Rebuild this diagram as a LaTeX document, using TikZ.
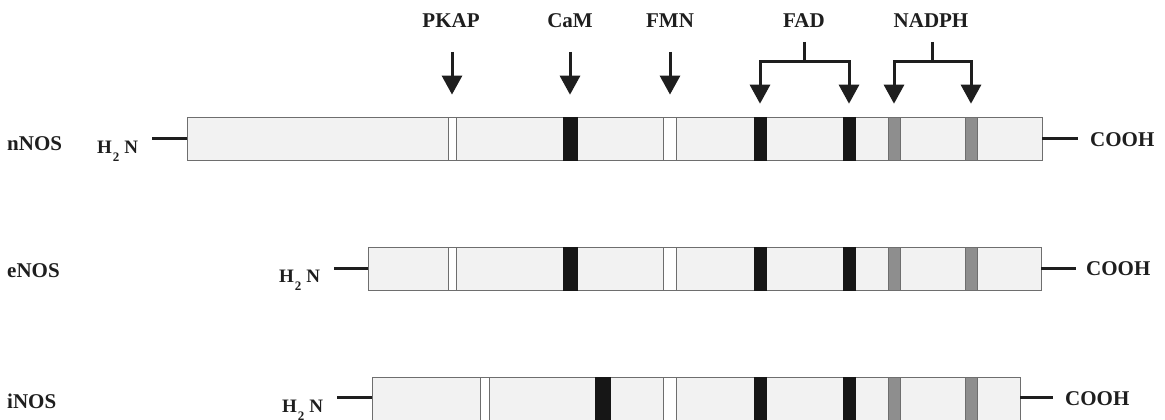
\documentclass[tikz,border=0pt]{standalone}
\usepackage{fontspec}
\setmainfont{Liberation Serif}
\usetikzlibrary{arrows.meta}
\definecolor{ink}{HTML}{1E1E1E}
\definecolor{barline}{HTML}{6E6E6E}
\definecolor{barfill}{HTML}{F2F2F2}
\definecolor{bandblack}{HTML}{161616}
\definecolor{bandgray}{HTML}{8E8E8E}
\newcommand{\htwon}{H\kern1pt\raisebox{-8pt}{\fontsize{13}{13}\selectfont 2}\kern5pt N}
\begin{document}
\begin{tikzpicture}[x=1pt,y=-1pt,
  bar/.style={draw=barline, fill=barfill, line width=0.9pt, minimum height=43pt, inner sep=0pt},
  wband/.style={draw=barline, fill=white, line width=0.8pt, minimum height=43pt, inner sep=0pt},
  kband/.style={draw=bandblack, fill=bandblack, line width=0.6pt, minimum height=43pt, inner sep=0pt},
  gband/.style={draw=barline, fill=bandgray, line width=0.6pt, minimum height=43pt, inner sep=0pt},
  lbl/.style={font=\fontsize{21}{21}\selectfont\bfseries, text=ink, inner sep=0pt},
  hlbl/.style={font=\fontsize{19}{19}\selectfont\bfseries, text=ink, inner sep=0pt},
  stub/.style={line width=3pt, draw=ink},
  arr/.style={line width=3pt, draw=ink, -{Triangle[width=20pt,length=19pt]}}]
\useasboundingbox (0,0) rectangle (1165,420);

% ---------- top labels ----------
\node[lbl, anchor=base] (lPKAP) at (451,28) {PKAP};
\node[lbl, anchor=base] (lCaM) at (570,28) {CaM};
\node[lbl, anchor=base] (lFMN) at (670,28) {FMN};
\node[lbl, anchor=base] (lFAD) at (804,28) {FAD};
\node[lbl, anchor=base] (lNADPH) at (931,28) {NADPH};

% ---------- nNOS ----------
\node[bar, minimum width=855pt] (nbar) at (614.5,138.5) {};
\node[wband, minimum width=8pt] (nPKAP) at (452,138.5) {};
\node[kband, minimum width=14pt] (nCaM) at (570,138.5) {};
\node[wband, minimum width=13pt] (nFMN) at (670,138.5) {};
\node[kband, minimum width=12pt] (nFAD1) at (760,138.5) {};
\node[kband, minimum width=12pt] (nFAD2) at (849,138.5) {};
\node[gband, minimum width=12pt] (nNAD1) at (894,138.5) {};
\node[gband, minimum width=12pt] (nNAD2) at (971,138.5) {};
\node[lbl, anchor=base west] (nname) at (7,150) {nNOS};
\node[hlbl, anchor=base west] (nH) at (97,153) {\htwon};
\node[lbl, anchor=base west] (nC) at (1090,146) {COOH};
\coordinate (nL) at (152,138.5);
\coordinate (nR) at (1078,138.5);
\draw[stub] (nL) -- (nbar.west);
\draw[stub] (nbar.east) -- (nR);

% ---------- eNOS ----------
\node[bar, minimum width=673pt] (ebar) at (704.5,268.5) {};
\node[wband, minimum width=8pt] (ePKAP) at (452,268.5) {};
\node[kband, minimum width=14pt] (eCaM) at (570,268.5) {};
\node[wband, minimum width=13pt] (eFMN) at (670,268.5) {};
\node[kband, minimum width=12pt] (eFAD1) at (760,268.5) {};
\node[kband, minimum width=12pt] (eFAD2) at (849,268.5) {};
\node[gband, minimum width=12pt] (eNAD1) at (894,268.5) {};
\node[gband, minimum width=12pt] (eNAD2) at (971,268.5) {};
\node[lbl, anchor=base west] (ename) at (7,277) {eNOS};
\node[hlbl, anchor=base west] (eH) at (279,282) {\htwon};
\node[lbl, anchor=base west] (eC) at (1086,275) {COOH};
\coordinate (eL) at (334,268.5);
\coordinate (eR) at (1076,268.5);
\draw[stub] (eL) -- (ebar.west);
\draw[stub] (ebar.east) -- (eR);

% ---------- iNOS ----------
\node[bar, minimum width=648pt] (ibar) at (696,398.5) {};
\node[wband, minimum width=9pt] (iPKAP) at (484.5,398.5) {};
\node[kband, minimum width=15pt] (iCaM) at (602.5,398.5) {};
\node[wband, minimum width=13pt] (iFMN) at (670,398.5) {};
\node[kband, minimum width=12pt] (iFAD1) at (760,398.5) {};
\node[kband, minimum width=12pt] (iFAD2) at (849,398.5) {};
\node[gband, minimum width=12pt] (iNAD1) at (894,398.5) {};
\node[gband, minimum width=12pt] (iNAD2) at (971,398.5) {};
\node[lbl, anchor=base west] (iname) at (7,408) {iNOS};
\node[hlbl, anchor=base west] (iH) at (282,412) {\htwon};
\node[lbl, anchor=base west] (iC) at (1065,405) {COOH};
\coordinate (iL) at (337,397.5);
\coordinate (iR) at (1053,397.5);
\draw[stub] (iL) -- (ibar.west |- iL);
\draw[stub] (ibar.east |- iR) -- (iR);

% ---------- arrows ----------
\coordinate (aPKAP) at (452,52);
\coordinate (aCaM) at (570,52);
\coordinate (aFMN) at (670,52);
\draw[arr, shorten >=22pt] (aPKAP) -- (nPKAP.north);
\draw[arr, shorten >=22pt] (aCaM) -- (nCaM.north);
\draw[arr, shorten >=22pt] (aFMN) -- (nFMN.north);

\coordinate (aFAD) at (804,42);
\coordinate (mFAD) at (804,62);
\draw[stub] (aFAD) -- (mFAD);
\draw[arr, shorten >=13pt] (mFAD) -| (nFAD1.north);
\draw[arr, shorten >=13pt] (mFAD) -| (nFAD2.north);

\coordinate (aNAD) at (932,42);
\coordinate (mNAD) at (932,62);
\draw[stub] (aNAD) -- (mNAD);
\draw[arr, shorten >=13pt] (mNAD) -| (nNAD1.north);
\draw[arr, shorten >=13pt] (mNAD) -| (nNAD2.north);
\end{tikzpicture}
\end{document}
